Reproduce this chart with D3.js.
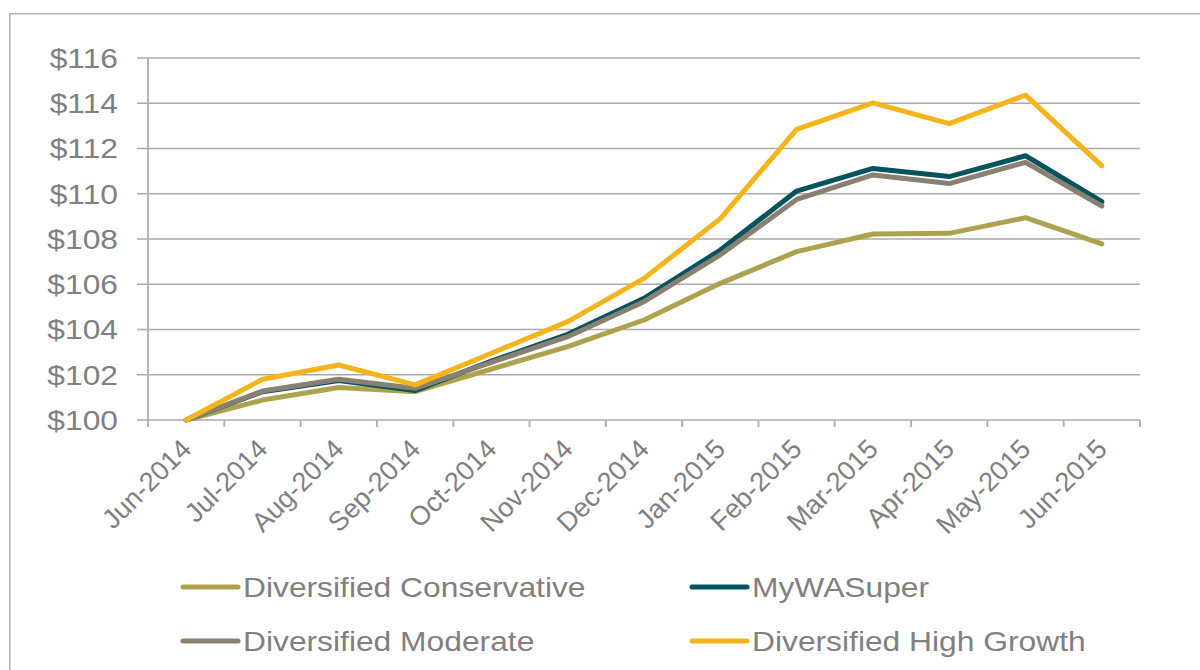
<!DOCTYPE html>
<html><head><meta charset="utf-8">
<script src="https://cdn.jsdelivr.net/npm/d3@7"></script>
<style>
body{margin:0;background:#fff}
svg{display:block}
text{font-family:"Liberation Sans",Arial,sans-serif;fill:#808080}
</style>
</head><body>
<svg id="c" width="1200" height="670"></svg>
<script>
const months = ["Jun-2014","Jul-2014","Aug-2014","Sep-2014","Oct-2014","Nov-2014","Dec-2014","Jan-2015","Feb-2015","Mar-2015","Apr-2015","May-2015","Jun-2015"];
const yTicks = [100,102,104,106,108,110,112,114,116];
const seriesNames = ["Diversified Conservative","MyWASuper","Diversified Moderate","Diversified High Growth"];
const conservative = [100,100.88,101.44,101.25,102.25,103.24,104.42,106.04,107.44,108.22,108.25,108.94,107.78];
const myWASuper    = [100,101.25,101.75,101.3,102.6,103.79,105.38,107.51,110.12,111.12,110.76,111.68,109.65];
const moderate     = [100,101.28,101.8,101.4,102.55,103.68,105.23,107.3,109.75,110.83,110.45,111.39,109.46];
const highGrowth   = [100,101.8,102.43,101.55,102.95,104.35,106.26,108.9,112.85,114.02,113.1,114.36,111.23];
const seriesColors = ["#ADA34F","#04535D","#8A8071","#F4B41A"];

const series = [conservative, myWASuper, moderate, highGrowth];
const svg = d3.select("#c");
const SX = 1.115, FS = 28.5, XFS = 27;

// outer border
svg.append("rect").attr("x",9.75).attr("y",13.75).attr("width",1300).attr("height",800)
  .attr("fill","none").attr("stroke","#b3b3b3").attr("stroke-width",1.5);

const x = d3.scaleBand().domain(months).range([148,1140]);
const y = d3.scaleLinear().domain([100,116]).range([420,58]);
const gridColor = "#aaaaaa";

// gridlines + y tick marks
svg.append("g").selectAll("line").data(yTicks).join("line")
  .attr("x1",137).attr("x2",x.range()[1])
  .attr("y1",d=>y(d)).attr("y2",d=>y(d))
  .attr("stroke",gridColor).attr("stroke-width",1.6);

// y axis line
svg.append("line").attr("x1",x.range()[0]).attr("x2",x.range()[0])
  .attr("y1",y(116)).attr("y2",y(100)+7).attr("stroke","#b3b3b3").attr("stroke-width",2);

// x tick marks at band boundaries
const bounds = months.map(m=>x(m)).concat([x.range()[1]]);
svg.append("g").selectAll("line").data(bounds).join("line")
  .attr("x1",d=>d).attr("x2",d=>d).attr("y1",y(100)).attr("y2",y(100)+7)
  .attr("stroke","#b3b3b3").attr("stroke-width",2);

// y labels
svg.append("g").selectAll("text").data(yTicks).join("text")
  .attr("transform",d=>`translate(118,${y(d)}) scale(${SX},1)`)
  .attr("text-anchor","end").attr("dy","0.35em").attr("font-size",FS)
  .text(d=>"$"+d);

// x labels
svg.append("g").selectAll("text").data(months).join("text")
  .attr("transform",m=>`translate(${x(m)+x.bandwidth()/2},444) rotate(-45)`)
  .attr("text-anchor","end").attr("dy","0.35em").attr("font-size",XFS)
  .text(m=>m);

// lines
const line = d3.line().x((d,i)=>x(months[i])+x.bandwidth()/2).y(d=>y(d));
svg.append("g").selectAll("path").data(series).join("path")
  .attr("d",d=>line(d)).attr("fill","none")
  .attr("stroke",(d,i)=>seriesColors[i]).attr("stroke-width",5)
  .attr("stroke-linejoin","round").attr("stroke-linecap","round");

// legend
const legendPos = [[183,587],[692,587],[183,641],[692,641]];
const lg = svg.append("g").selectAll("g").data(seriesNames).join("g")
  .attr("transform",(d,i)=>`translate(${legendPos[i][0]},${legendPos[i][1]})`);
lg.append("line").attr("x1",0).attr("x2",55).attr("y1",0).attr("y2",0)
  .attr("stroke",(d,i)=>seriesColors[i]).attr("stroke-width",5).attr("stroke-linecap","round");
lg.append("text").attr("transform",`translate(60,0) scale(${SX},1)`)
  .attr("dy","0.35em").attr("font-size",FS).text(d=>d);
</script>
</body></html>
